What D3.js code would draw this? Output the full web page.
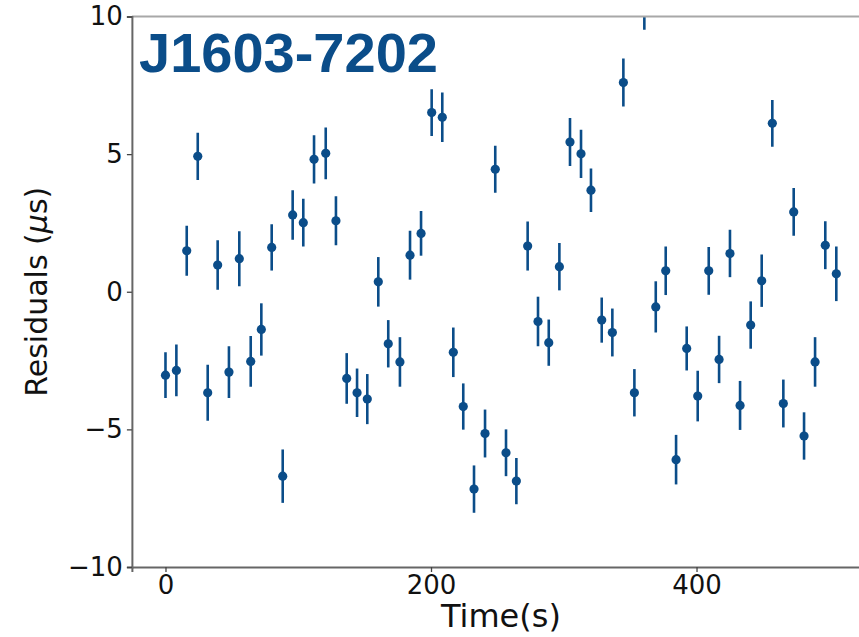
<!DOCTYPE html>
<html>
<head>
<meta charset="utf-8">
<script src="https://cdn.jsdelivr.net/npm/d3@7"></script>
<style>
  body { margin: 0; background: #fff; }
  svg { display: block; }
</style>
</head>
<body>
<div id="chart"></div>
<script>
// residual timing points
const times = [0, 8.2, 16, 24.3, 31.8, 39.3, 47.8, 55.6, 64.2, 72.2, 80, 88.3, 95.8, 103.8, 111.9, 120.7,
  128.4, 136.5, 144.3, 152, 160.3, 167.8, 176.6, 184.2, 192.5, 200.5, 208.5, 216.8, 224.3, 232.4, 240.7,
  248.4, 256.5, 264.3, 272.8, 280.6, 288.7, 296.7, 304.7, 313, 320.5, 328.6, 336.6, 344.9, 353.2, 360.7,
  369.3, 376.8, 384.6, 392.6, 400.9, 409.2, 417, 425.2, 432.8, 440.8, 449.1, 457.1, 465.4, 473.2, 481,
  489.3, 497, 505.3];
const residuals = [-3.03, -2.86, 1.49, 4.92, -3.67, 0.97, -2.92, 1.2, -2.53, -1.37, 1.61, -6.7, 2.79, 2.51,
  4.81, 5.03, 2.58, -3.15, -3.67, -3.9, 0.36, -1.89, -2.55, 1.33, 2.12, 6.51, 6.34, -2.2, -4.17, -7.17,
  -5.15, 4.45, -5.85, -6.88, 1.66, -1.08, -1.85, 0.91, 5.44, 5.01, 3.69, -1.03, -1.48, 7.6, -3.67, 10.39,
  -0.55, 0.76, -6.1, -2.06, -3.79, 0.76, -2.46, 1.39, -4.13, -1.21, 0.40, 6.12, -4.06, 2.9, -5.24, -2.55,
  1.69, 0.65];
const errors = [0.83, 0.94, 0.91, 0.86, 1.02, 0.90, 0.94, 1.0, 0.92, 0.95, 0.84, 0.97, 0.90, 0.87, 0.88,
  0.94, 0.89, 0.92, 0.88, 0.91, 0.90, 0.86, 0.90, 0.89, 0.81, 0.85, 0.90, 0.90, 0.84, 0.86, 0.87, 0.85,
  0.85, 0.84, 0.89, 0.9, 0.84, 0.86, 0.87, 0.88, 0.79, 0.82, 0.87, 0.87, 0.86, 0.87, 0.93, 0.88, 0.90,
  0.80, 0.92, 0.87, 0.86, 0.86, 0.89, 0.86, 0.95, 0.85, 0.87, 0.87, 0.86, 0.90, 0.87, 0.99];

const xTicks = [0, 200, 400];
const yTicks = [-10, -5, 0, 5, 10];
const title = "J1603-7202";

const data = times.map((t, i) => ({ t: t, r: residuals[i], e: errors[i] }));

const W = 859, H = 637;
const plot = { left: 131.9, right: 869.9, top: 16.5, bottom: 567 };
const blue = "#0b4d89";

const svg = d3.select("#chart").append("svg")
    .attr("width", W)
    .attr("height", H)
    .style("font-family", "'DejaVu Sans', sans-serif");

const x = d3.scaleLinear().domain([-25.3, 530.6]).range([plot.left, plot.right]);
const y = d3.scaleLinear().domain([-10, 10]).range([plot.bottom, plot.top]);

svg.append("clipPath").attr("id", "clip")
  .append("rect")
    .attr("x", plot.left)
    .attr("y", plot.top)
    .attr("width", plot.right - plot.left)
    .attr("height", plot.bottom - plot.top);

// error bars + markers
const pts = svg.append("g").attr("clip-path", "url(#clip)");

pts.selectAll("line.err")
  .data(data)
  .join("line")
    .attr("class", "err")
    .attr("x1", d => x(d.t))
    .attr("x2", d => x(d.t))
    .attr("y1", d => y(d.r - d.e))
    .attr("y2", d => y(d.r + d.e))
    .attr("stroke", blue)
    .attr("stroke-width", 2.6);

pts.selectAll("circle")
  .data(data)
  .join("circle")
    .attr("cx", d => x(d.t))
    .attr("cy", d => y(d.r))
    .attr("r", 4.6)
    .attr("fill", blue);

// top spine (right one falls outside the window)
svg.append("line")
    .attr("x1", plot.left).attr("x2", plot.right)
    .attr("y1", plot.top).attr("y2", plot.top)
    .attr("stroke", "#a8a8a8").attr("stroke-width", 2);

// axes
const xAxis = svg.append("g")
    .attr("transform", `translate(0,${plot.bottom})`)
    .call(d3.axisBottom(x).tickValues(xTicks).tickSize(5).tickPadding(4)
      .tickFormat(d => d));

const yAxis = svg.append("g")
    .attr("transform", `translate(${plot.left},0)`)
    .call(d3.axisLeft(y).tickValues(yTicks).tickSize(5).tickPadding(4)
      .tickFormat(d => d < 0 ? "\u2212" + Math.abs(d) : d));

[xAxis, yAxis].forEach(g => {
  g.select(".domain").attr("stroke", "#666").attr("stroke-width", 2);
  g.selectAll(".tick line").attr("stroke", "#444").attr("stroke-width", 1.3);
  g.selectAll(".tick text")
    .attr("fill", "#111")
    .style("font-family", "'DejaVu Sans', sans-serif")
    .style("font-size", "26px");
});

// axis labels
svg.append("text")
    .attr("x", (plot.left + plot.right) / 2)
    .attr("y", 627)
    .attr("text-anchor", "middle")
    .attr("fill", "#111")
    .style("font-size", "32px")
    .text("Time(s)");

const yl = svg.append("text")
    .attr("transform", `translate(47,${(plot.top + plot.bottom) / 2}) rotate(-90)`)
    .attr("text-anchor", "middle")
    .attr("fill", "#111")
    .style("font-size", "30px");
yl.append("tspan").text("Residuals (");
yl.append("tspan").style("font-style", "italic").text("\u03bc");
yl.append("tspan").text("s)");

// pulsar name
svg.append("text")
    .attr("x", 139)
    .attr("y", 72)
    .attr("fill", blue)
    .style("font-family", "'Liberation Sans', Arial, sans-serif")
    .style("font-weight", "bold")
    .style("font-size", "56px")
    .text(title);
</script>
</body>
</html>
